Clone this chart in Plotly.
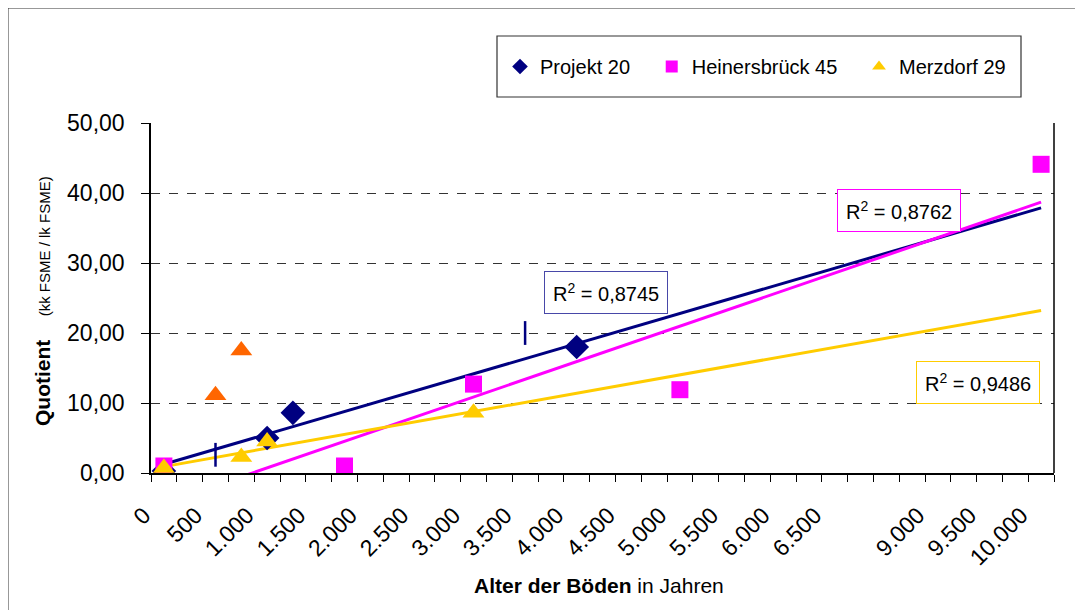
import numpy as np
import plotly.graph_objects as go

# ---- data (x = category position on the axis, y = quotient) ----
proj_x = [0.5, 4.5, 5.5, 16.5]
proj_y = [0.3, 5.0, 8.6, 18.0]
proj_dash_x = [2.5, 14.5]
proj_dash_y = [2.6, 20.0]

hein_x = [0.5, 7.5, 12.5, 20.5, 34.5]
hein_y = [1.0, 1.0, 12.7, 11.9, 44.1]

merz_x = [0.5, 3.5, 4.5, 12.5]
merz_y = [0.7, 2.3, 4.5, 8.6]
merz_out_x = [2.5, 3.5]
merz_out_y = [11.1, 17.5]

r2_labels = ["0,8745", "0,8762", "0,9486"]

tick_pos = [0, 2, 4, 6, 8, 10, 12, 14, 16, 18, 20, 22, 24, 26, 30, 32, 34]
tick_txt = ["0", "500", "1.000", "1.500", "2.000", "2.500", "3.000", "3.500",
            "4.000", "4.500", "5.000", "5.500", "6.000", "6.500",
            "9.000", "9.500", "10.000"]

NAVY = "#000080"
MAG = "#FF00FF"
GOLD = "#FFCC00"
ORANGE = "#FF6600"
FONT = "Liberation Sans, Arial, sans-serif"
NB = "\u00a0"

fig = go.Figure()

trend_x = np.array([0.5, 34.5])
for xs, ys, col in [(proj_x, proj_y, NAVY), (hein_x, hein_y, MAG), (merz_x, merz_y, GOLD)]:
    k, d = np.polyfit(xs, ys, 1)
    fig.add_trace(go.Scatter(x=trend_x, y=k * trend_x + d, mode="lines",
                             line=dict(color=col, width=3), showlegend=False,
                             hoverinfo="skip"))

fig.add_trace(go.Scatter(x=proj_x, y=proj_y, mode="markers", name="Projekt 20" + NB * 3,
                         marker=dict(symbol="diamond", size=19, color=NAVY)))
fig.add_trace(go.Scatter(x=proj_dash_x, y=proj_dash_y, mode="markers", showlegend=False,
                         marker=dict(symbol="line-ns", size=17,
                                     line=dict(color=NAVY, width=2.5))))
fig.add_trace(go.Scatter(x=hein_x, y=hein_y, mode="markers", name="Heinersbrück 45" + NB * 3,
                         marker=dict(symbol="square", size=17, color=MAG)))
fig.add_trace(go.Scatter(x=merz_x, y=merz_y, mode="markers", name="Merzdorf 29",
                         marker=dict(symbol="triangle-up", size=19, color=GOLD)))
fig.add_trace(go.Scatter(x=merz_out_x, y=merz_out_y, mode="markers", showlegend=False,
                         marker=dict(symbol="triangle-up", size=19, color=ORANGE)))

all_ticks = list(range(0, 36))
fig.update_xaxes(range=[0, 35], tickmode="array", tickvals=tick_pos, ticktext=tick_txt,
                 tickangle=-45, ticks="", showgrid=False, zeroline=False,
                 showline=True, linecolor="black", linewidth=1.5,
                 ticklabelstandoff=18, ticklabelshift=-7,
                 tickfont=dict(size=23, color="black", family=FONT),
                 minor=dict(tickmode="array", tickvals=all_ticks, ticks="outside",
                            ticklen=7, tickcolor="black", tickwidth=1, showgrid=False))
fig.update_yaxes(range=[0, 50], dtick=10, tickformat=".2f", ticks="outside", ticklen=8,
                 tickcolor="black", showline=True, linecolor="black", linewidth=1.5,
                 showgrid=True, gridcolor="#333333", griddash="dash", gridwidth=1,
                 zeroline=False, ticklabelstandoff=12,
                 tickfont=dict(size=23, color="black", family=FONT))

annots = [
    dict(x=(42 - 151) / 903, y=(473 - 301) / 350, xref="paper", yref="paper",
         textangle=-90, showarrow=False, xanchor="center", yanchor="middle",
         text="<b>Quotient</b>" + NB * 4 + "<span style='font-size:15px'>(kk FSME / lk FSME)</span>",
         font=dict(size=21, color="black", family=FONT)),
    dict(x=(599 - 151) / 903, y=(473 - 585) / 350, xref="paper", yref="paper",
         showarrow=False, xanchor="center", yanchor="middle",
         text="<b>Alter der Böden</b> in Jahren",
         font=dict(size=21, color="black", family=FONT)),
]
for (px, py, txt, col) in [(605.5, 292, r2_labels[0], "#4848A8"),
                            (899, 210, r2_labels[1], MAG),
                            (977.5, 382, r2_labels[2], GOLD)]:
    annots.append(dict(x=(px - 151) / 903, y=(473 - py) / 350, xref="paper", yref="paper",
                       xanchor="center", yanchor="middle",
                       showarrow=False, text="R<sup>2</sup> = " + txt,
                       font=dict(size=20, color="black", family=FONT),
                       bgcolor="white", bordercolor=col, borderwidth=1, borderpad=8))

shapes = [
    dict(type="line", xref="paper", yref="paper", x0=1, x1=1, y0=0, y1=1,
         line=dict(color="black", width=1.5)),
    dict(type="rect", xref="paper", yref="paper",
         x0=(7.5 - 151) / 903, x1=(1095 - 151) / 903,
         y0=(473 - 625) / 350, y1=(473 - 7.5) / 350,
         line=dict(color="#333333", width=2)),
    dict(type="rect", xref="paper", yref="paper",
         x0=(497 - 151) / 903, x1=(1021 - 151) / 903,
         y0=(473 - 97) / 350, y1=(473 - 36) / 350,
         line=dict(color="#333333", width=1.2), fillcolor="white", layer="below"),
]

fig.update_layout(
    width=1083, height=610,
    margin=dict(l=143, r=37, t=115, b=145),
    paper_bgcolor="white", plot_bgcolor="white",
    separators=",.",
    font=dict(family=FONT, color="black"),
    showlegend=True,
    legend=dict(orientation="h", x=(500 - 151) / 903, y=(473 - 66.5) / 350,
                xanchor="left", yanchor="middle", bgcolor="rgba(0,0,0,0)",
                borderwidth=0, font=dict(size=20, color="black", family=FONT),
                itemsizing="constant"),
    annotations=annots, shapes=shapes,
)

fig.write_html("out.html")
